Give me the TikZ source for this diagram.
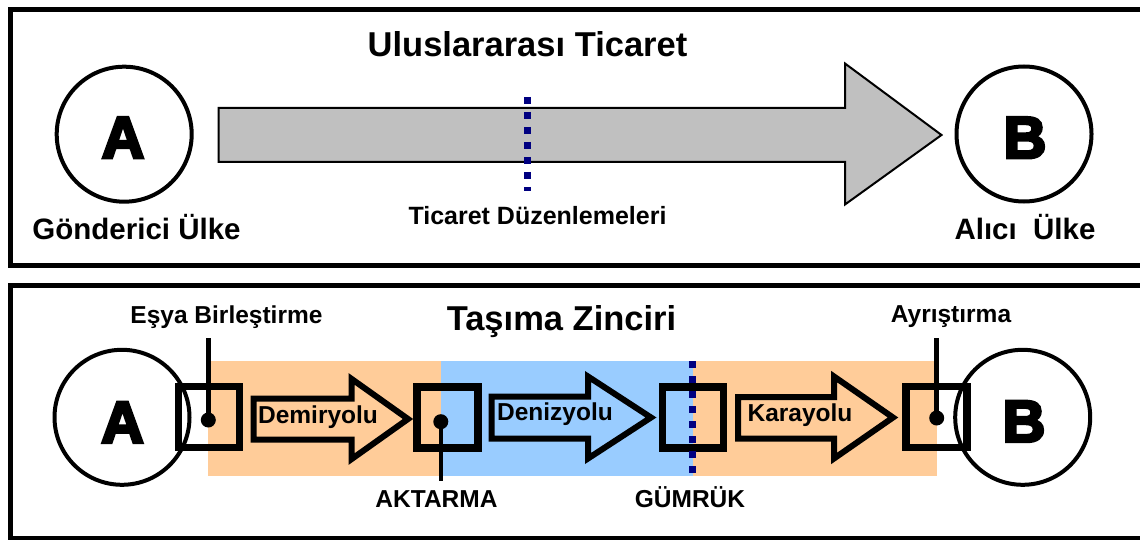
\documentclass[tikz,border=0pt]{standalone}
\usepackage{fontspec}
\setmainfont{Liberation Sans}
\newfontfamily\heavyfont{Liberation Sans Bold}[FakeBold=5]
\definecolor{peach}{HTML}{FFCC99}
\definecolor{skyb}{HTML}{99CCFF}
\definecolor{navyc}{HTML}{000080}
\definecolor{grayc}{HTML}{C0C0C0}
\tikzset{
  frame/.style={draw=black, line width=5pt},
  circ/.style={circle, draw=black, line width=4pt, minimum size=135pt, inner sep=0pt},
  letter/.style={font=\heavyfont\fontsize{59}{59}\selectfont, inner sep=0pt, anchor=base},
  titlet/.style={font=\bfseries\fontsize{34.5}{40}\selectfont, inner sep=0pt, anchor=base},
  biglab/.style={font=\bfseries\fontsize{29.5}{34}\selectfont, inner sep=0pt, anchor=base},
  lab/.style={font=\bfseries\fontsize{24.5}{28}\selectfont, inner sep=0pt, anchor=base},
  midlab/.style={font=\bfseries\fontsize{25}{28}\selectfont, inner sep=0pt, anchor=base},
  hubbox/.style={rectangle, draw=black, line width=7.5pt, minimum width=61pt, minimum height=61pt, inner sep=0pt},
  dotn/.style={circle, fill=black, minimum size=15pt, inner sep=0pt},
  leader/.style={draw=black, line width=4.5pt},
  navyline/.style={draw=navyc, line width=7pt, dash pattern=on 6.7pt off 8.3pt},
  grayarrow/.style={draw=black, fill=grayc, line width=2pt, line join=miter},
  modearrow/.style={draw=black, line width=6pt, line join=miter},
}
\begin{document}
\begin{tikzpicture}[x=1pt, y=-1pt]
\useasboundingbox (0,0) rectangle (1140,540);
% frames
\draw[frame] (10,10) rectangle (1150,265);
\draw[frame] (10,285) rectangle (1150,538.5);

% ---------- top panel ----------
\node[titlet] (t1) at (527.5,57) {Uluslararası Ticaret};
\draw[grayarrow] (218.5,108) -- (845,108) -- (845,63.5) -- (941.5,135) -- (845,204.5) -- (845,162) -- (218.5,162) -- cycle;
\coordinate (n1a) at (527,97);
\coordinate (n1b) at (527,191);
\draw[navyline] (n1a) -- (n1b);
\node[midlab] (td) at (537.5,225) {Ticaret Düzenlemeleri};
\node[circ] (cA) at (124.2,134.2) {};
\node[letter] (lA) at (123,158) {A};
\node[biglab] (gA) at (136.5,240) {Gönderici Ülke};
\node[circ] (cB) at (1024,134) {};
\node[letter] (lB) at (1025,158) {B};
\node[biglab] (gB) at (1025,240) {Alıcı\ \ Ülke};

% ---------- bottom panel ----------
\fill[peach] (208,361) rectangle (441,476);
\fill[skyb] (441,361) rectangle (692.5,476);
\fill[peach] (692.5,361) rectangle (937,476);

\node[titlet] (t2) at (561.5,330) {Taşıma Zinciri};

\node[circ] (cA2) at (122,417.3) {};
\node[letter] (lA2) at (122.5,442.7) {A};
\node[circ] (cB2) at (1022.7,417.3) {};
\node[letter] (lB2) at (1024,441.7) {B};

\node[hubbox] (b1) at (209,417) {};
\node[hubbox] (b2) at (447.5,417.5) {};
\node[hubbox] (b3) at (693,417.5) {};
\node[hubbox] (b4) at (936.5,417) {};

\coordinate (n2a) at (692.5,361);
\coordinate (n2b) at (692.5,474);
\draw[navyline] (n2a) -- (n2b);

\node[dotn] (d1) at (208.3,420) {};
\node[dotn] (d2) at (440.8,421.7) {};
\node[dotn] (d4) at (936.7,418) {};
\coordinate (e1) at (208.3,338.3);
\coordinate (e2) at (440.8,480.7);
\coordinate (e4) at (936.7,338.3);
\draw[leader] (d1.center) -- (e1);
\draw[leader] (d2.center) -- (e2);
\draw[leader] (d4.center) -- (e4);

\node[lab] (l1) at (226.5,323) {Eşya Birleştirme};
\node[lab] (l4) at (951,322) {Ayrıştırma};
\node[lab] (l2) at (436.5,507) {AKTARMA};
\node[lab] (l3) at (690,507) {GÜMRÜK};

% transport arrows
\draw[modearrow] (253.5,398.5) -- (351.7,398.5) -- (351.7,379) -- (408,419) -- (351.7,459) -- (351.7,439.5) -- (253.5,439.5) -- cycle;
\draw[modearrow] (491.5,396.5) -- (588,396.5) -- (588,376.5) -- (651,417.5) -- (588,458.5) -- (588,438.5) -- (491.5,438.5) -- cycle;
\draw[modearrow] (738,397) -- (834,397) -- (834,376.5) -- (893,417.5) -- (834,458.5) -- (834,438.5) -- (738,438.5) -- cycle;
\node[lab] (m1) at (318,423) {Demiryolu};
\node[lab] (m2) at (555,420) {Denizyolu};
\node[lab] (m3) at (800,421) {Karayolu};
\end{tikzpicture}
\end{document}
